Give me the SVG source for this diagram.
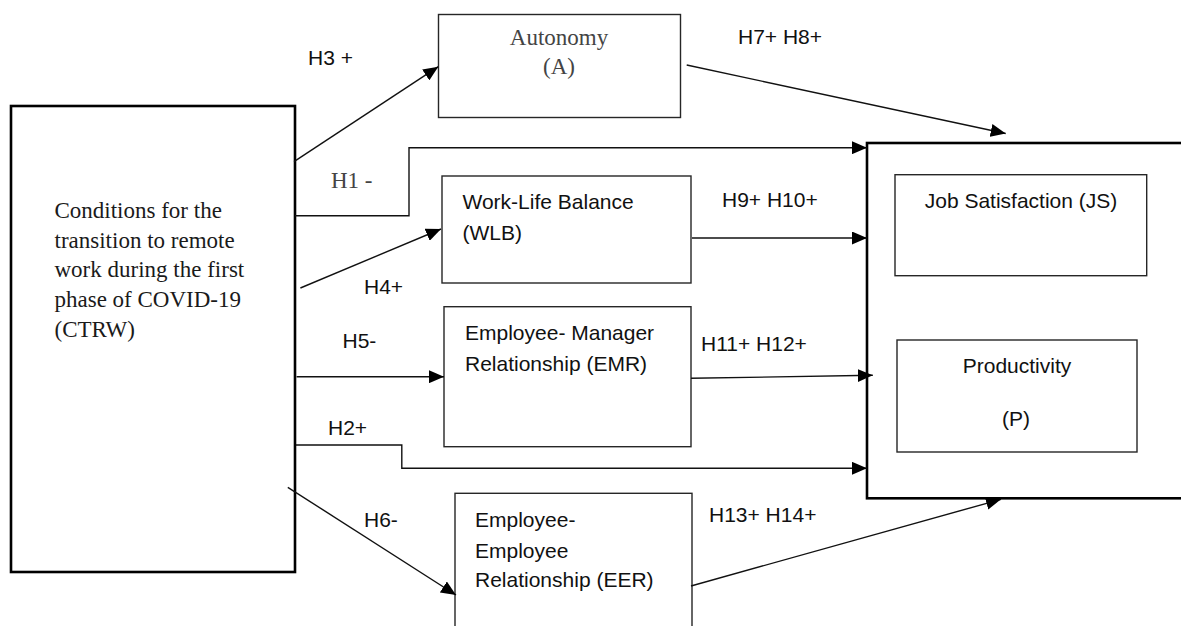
<svg xmlns="http://www.w3.org/2000/svg" width="1181" height="626" viewBox="0 0 1181 626">
  <style>
    .bg { fill: #ffffff; }
    .box { fill: none; stroke: #262626; stroke-width: 1.4; }
    .frame { fill: none; stroke: #000000; stroke-width: 2.6; }
    .edge { fill: none; stroke: #111111; stroke-width: 1.4; }
    .serif { font-family: "Liberation Serif", "Times New Roman", serif; font-size: 23px; fill: #1a1a1a; }
    .serif.soft { fill: #444444; }
    .sans { font-family: "Liberation Sans", Arial, sans-serif; font-size: 21px; fill: #111111; }
    .mid { text-anchor: middle; }
  </style>
  <defs>
    <marker id="arrow" markerUnits="userSpaceOnUse" markerWidth="16" markerHeight="13" refX="15" refY="6.5" orient="auto">
      <path d="M0,0 L15,6.5 L0,13 z" fill="#000000"/>
    </marker>
  </defs>

  <rect class="bg" x="0" y="0" width="1181" height="626"/>

  <!-- source construct -->
  <g id="ctrw">
    <rect class="frame" x="11" y="106" width="284" height="466"/>
    <text class="serif" x="54.5" y="218">Conditions for the</text>
    <text class="serif" x="54.5" y="247.5">transition to remote</text>
    <text class="serif" x="54.5" y="277">work during the first</text>
    <text class="serif" x="54.5" y="306.5">phase of COVID-19</text>
    <text class="serif" x="54.5" y="336.5">(CTRW)</text>
  </g>

  <!-- mediators -->
  <g id="autonomy">
    <rect class="box" x="438.5" y="14.5" width="242" height="103"/>
    <text class="serif soft mid" x="559" y="45">Autonomy</text>
    <text class="serif soft mid" x="559" y="74">(A)</text>
  </g>

  <g id="wlb">
    <rect class="box" x="442" y="176" width="249" height="107"/>
    <text class="sans" x="462.5" y="209">Work-Life Balance</text>
    <text class="sans" x="462.5" y="239.5">(WLB)</text>
  </g>

  <g id="emr">
    <rect class="box" x="444" y="306.7" width="247" height="140"/>
    <text class="sans" x="465" y="340">Employee- Manager</text>
    <text class="sans" x="465" y="370.5">Relationship (EMR)</text>
  </g>

  <g id="eer">
    <rect class="box" x="455" y="493.3" width="237" height="150"/>
    <text class="sans" x="475" y="527">Employee-</text>
    <text class="sans" x="475" y="558">Employee</text>
    <text class="sans" x="475" y="587">Relationship (EER)</text>
  </g>

  <!-- outcomes -->
  <g id="outcomes">
    <rect class="frame" x="867" y="143" width="330" height="355.3"/>
  </g>

  <g id="js">
    <rect class="box" x="895" y="174.7" width="251.7" height="101"/>
    <text class="sans mid" x="1021" y="208">Job Satisfaction (JS)</text>
  </g>

  <g id="productivity">
    <rect class="box" x="897" y="340" width="240" height="112"/>
    <text class="sans mid" x="1017" y="372.5">Productivity</text>
    <text class="sans mid" x="1016" y="426">(P)</text>
  </g>

  <!-- hypothesised paths -->
  <g id="connectors">
    <line class="edge" x1="294" y1="161.7" x2="438.3" y2="66.7" marker-end="url(#arrow)"/>
    <polyline class="edge" points="295,215.7 409,215.7 409,147.7 867,147.7" marker-end="url(#arrow)"/>
    <line class="edge" x1="300.4" y1="288" x2="441" y2="229" marker-end="url(#arrow)"/>
    <line class="edge" x1="296.6" y1="376.7" x2="444" y2="376.7" marker-end="url(#arrow)"/>
    <polyline class="edge" points="296,445 401.8,445 401.8,468.3 867,468.3" marker-end="url(#arrow)"/>
    <line class="edge" x1="287.8" y1="487.3" x2="456" y2="595" marker-end="url(#arrow)"/>
    <line class="edge" x1="686.7" y1="65" x2="1005.7" y2="133.5" marker-end="url(#arrow)"/>
    <line class="edge" x1="692" y1="238" x2="867" y2="238" marker-end="url(#arrow)"/>
    <line class="edge" x1="691" y1="378.3" x2="872.8" y2="375.3" marker-end="url(#arrow)"/>
    <line class="edge" x1="691" y1="586" x2="1001" y2="499.3" marker-end="url(#arrow)"/>

    <text class="sans" x="308" y="65">H3 +</text>
    <text class="serif soft" x="331" y="188">H1 -</text>
    <text class="sans" x="364" y="294">H4+</text>
    <text class="sans" x="342.5" y="348">H5-</text>
    <text class="sans" x="328" y="435">H2+</text>
    <text class="sans" x="364" y="527">H6-</text>
    <text class="sans" x="738" y="44">H7+ H8+</text>
    <text class="sans" x="722" y="207">H9+ H10+</text>
    <text class="sans" x="701" y="351">H11+ H12+</text>
    <text class="sans" x="709" y="522">H13+ H14+</text>
  </g>
</svg>
